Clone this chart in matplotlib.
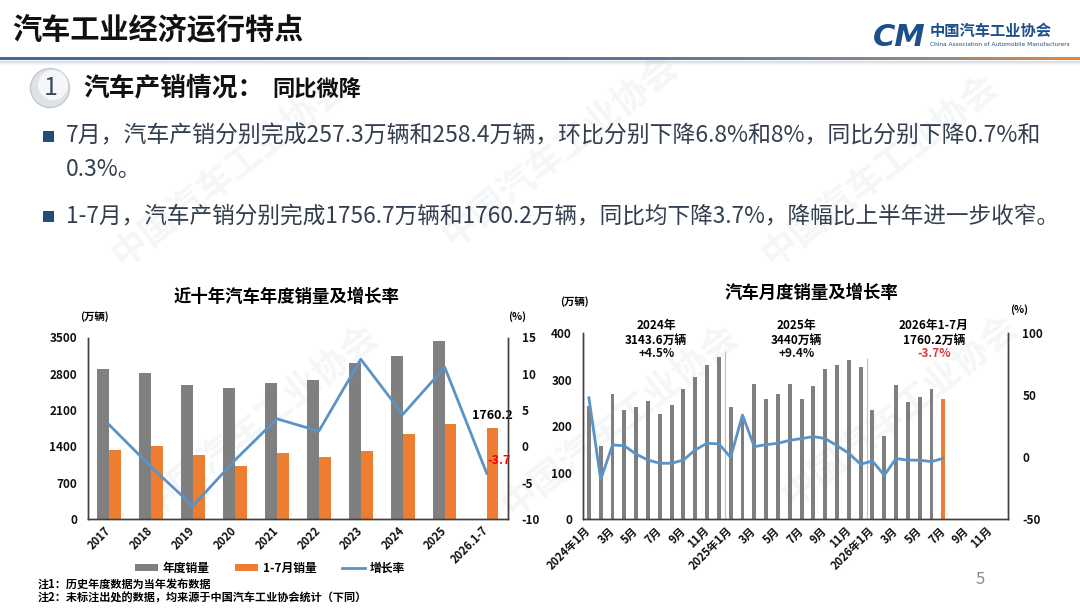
import numpy as np
import matplotlib
matplotlib.use("Agg")
import matplotlib.pyplot as plt
from matplotlib.patches import Rectangle, Circle, Patch
from matplotlib.lines import Line2D
from matplotlib.colors import LinearSegmentedColormap

plt.rcParams['font.family'] = ['Noto Sans CJK SC', 'DejaVu Sans']
plt.rcParams['font.weight'] = 'bold'
plt.rcParams['axes.unicode_minus'] = False

# ---- annual chart data (万辆 / %)
years = ["2017", "2018", "2019", "2020", "2021", "2022", "2023", "2024", "2025", "2026.1-7"]
annual_sales = [2888, 2808, 2577, 2531, 2628, 2686, 3009, 3144, 3440]
jan_jul_sales = [1325, 1403, 1229, 1017, 1280, 1197, 1313, 1630, 1826, 1760.2]
annual_growth = [3.0, -2.8, -8.2, -1.9, 3.8, 2.1, 12.0, 4.4, 10.9, -3.7]

# ---- monthly chart data, 2024-01 .. 2026-07 (axis runs to 2026-12)
n_months = 36
monthly_sales = [243.9, 158.4, 269.4, 235.9, 241.7, 255.2, 226.2, 245.3, 280.9, 305.3, 331.7, 349.9,
                 242.3, 212.9, 291.5, 259.0, 268.6, 290.4, 259.3, 285.7, 322.6, 332.2, 342.9, 327.2,
                 235.0, 179.0, 288.7, 252.8, 262.8, 280.8, 258.4]
monthly_growth = [48.0, -18.0, 10.0, 9.3, 2.5, -2.2, -4.8, -4.8, -2.2, 6.0, 11.3, 10.8,
                  0.0, 34.1, 8.6, 10.2, 11.3, 13.7, 15.1, 16.7, 15.1, 9.4, 3.2, -5.6,
                  -3.0, -14.5, -1.0, -2.3, -2.3, -3.5, -0.8]
month_ticks = ["2024年1月", "3月", "5月", "7月", "9月", "11月",
               "2025年1月", "3月", "5月", "7月", "9月", "11月",
               "2026年1月", "3月", "5月", "7月", "9月", "11月"]
period_year = ["2024年", "2025年", "2026年1-7月"]
period_total = ["3143.6万辆", "3440万辆", "1760.2万辆"]
period_rate = ["+4.5%", "+9.4%", "-3.7%"]

GRAY = "#7f7f7f"
ORANGE = "#ed7d31"
BLUE = "#5b93c7"
SPINE = "#404040"
DARK = "#1d4f8b"

W, H = 1080, 608
fig = plt.figure(figsize=(W / 100, H / 100), dpi=100)


def fax(x0, y0, x1, y1):
    return fig.add_axes([x0 / W, 1 - y1 / H, (x1 - x0) / W, (y1 - y0) / H])


# slide background in pixel coordinates
bg = fig.add_axes([0, 0, 1, 1])
bg.set_autoscale_on(False)
bg.set_xlim(0, W); bg.set_ylim(H, 0)
bg.axis("off")

# faint watermarks
for wx, wy in [(230, 170), (560, 150), (880, 170), (260, 420), (620, 420), (900, 410)]:
    bg.text(wx, wy, "中国汽车工业协会", fontsize=26, rotation=38, color="#c9d3de",
            alpha=0.2, ha="center", va="center", zorder=0)

# header
bg.text(12, 29, "汽车工业经济运行特点", fontsize=21, fontweight="bold", va="center", color="#111111")
cmap = LinearSegmentedColormap.from_list(
    "hdr", [(0, "#41689a"), (0.6, "#5c7898"), (0.86, "#8e8c8a"), (1.0, "#e6843c")])
bg.imshow(np.linspace(0, 1, 512)[None, :], cmap=cmap, extent=(0, W, 60, 57), aspect="auto", zorder=2)
for i, a in enumerate([0.35, 0.22, 0.12, 0.05]):
    bg.plot([0, W], [61 + i, 61 + i], color="#9aa6b4", alpha=a, lw=1, zorder=1)

bg.text(899, 37, "CM", fontsize=22, fontweight="heavy", style="italic", color=DARK,
        ha="center", va="center", family="DejaVu Sans")
bg.text(930, 31, "中国汽车工业协会", fontsize=11, fontweight="bold", color=DARK, va="center")
bg.text(930, 44, "China Association of Automobile Manufacturers", fontsize=4.2,
        color=DARK, va="center", family="DejaVu Sans", fontweight="normal")

# section heading
bg.add_patch(Circle((50, 88), 19.5, fc="#dfe3e8", ec="#c3c9d1", lw=1, zorder=2))
bg.add_patch(Circle((53, 85), 15, fc="#f4f6f8", ec="none", zorder=2))
bg.text(51, 88, "1", fontsize=18, fontweight="normal", color="#3b4a5e", ha="center", va="center", zorder=3)
bg.text(83, 88, "汽车产销情况：", fontsize=18.5, fontweight="bold", color="#111111", va="center")
bg.text(272, 89, "同比微降", fontsize=16, fontweight="bold", color="#111111", va="center")

# bullets
TXT = "#333f4f"
for by in [136, 216]:
    bg.add_patch(Rectangle((43, by - 5.5), 11, 11, fc="#1f4e79", ec="none"))
bg.text(66, 136, "7月，汽车产销分别完成257.3万辆和258.4万辆，环比分别下降6.8%和8%，同比分别下降0.7%和",
        fontsize=16.5, fontweight="normal", color=TXT, va="center")
bg.text(66, 170, "0.3%。", fontsize=16.5, fontweight="normal", color=TXT, va="center")
bg.text(66, 216, "1-7月，汽车产销分别完成1756.7万辆和1760.2万辆，同比均下降3.7%，降幅比上半年进一步收窄。",
        fontsize=16.3, fontweight="normal", color=TXT, va="center")

# chart titles, units, notes, page number
bg.text(287, 297, "近十年汽车年度销量及增长率", fontsize=12.5, fontweight="bold", ha="center", va="center")
bg.text(811, 293, "汽车月度销量及增长率", fontsize=12.5, fontweight="bold", ha="center", va="center")
bg.text(94, 317, "(万辆)", fontsize=7.5, ha="center", va="center")
bg.text(517, 317, "(%)", fontsize=7.5, ha="center", va="center")
bg.text(574, 302, "(万辆)", fontsize=7.5, ha="center", va="center")
bg.text(1019, 310, "(%)", fontsize=7.5, ha="center", va="center")
bg.text(38, 584, "注1：历史年度数据为当年发布数据", fontsize=8, va="center")
bg.text(38, 598, "注2：未标注出处的数据，均来源于中国汽车工业协会统计（下同）", fontsize=8, va="center")
bg.text(980, 580, "5", fontsize=12, color="#8c8c8c", fontweight="normal", ha="center", va="center")


def style(ax, twin):
    for a in (ax, twin):
        a.set_facecolor("none")
        a.spines["top"].set_visible(False)
        for s in ("left", "right", "bottom"):
            a.spines[s].set_color(SPINE)
            a.spines[s].set_linewidth(1.0)
        a.tick_params(length=0, labelsize=8.5, colors="#111111")
    ax.tick_params(axis="y", pad=8)
    twin.tick_params(axis="y", pad=10)


# ---- left chart: annual sales
axL = fax(88, 337.5, 507.7, 519)
axL2 = axL.twinx()
style(axL, axL2)
x = np.arange(len(years))
bw = 0.28
axL.bar(x[:len(annual_sales)] - bw / 2, annual_sales, bw, color=GRAY)
axL.bar(x + bw / 2, jan_jul_sales, bw, color=ORANGE)
axL.set_xlim(-0.5, len(years) - 0.5)
axL.set_ylim(0, 3500)
axL.set_yticks(np.arange(0, 3501, 700))
axL.set_xticks(x)
axL.set_xticklabels(years, rotation=45, ha="right", va="center", rotation_mode="anchor", fontsize=8)
axL.tick_params(axis="x", pad=7)
axL2.plot(x, annual_growth, color=BLUE, lw=2.0)
axL2.set_ylim(-10, 15)
axL2.set_yticks(np.arange(-10, 16, 5))
axL.annotate(f"{jan_jul_sales[-1]:.1f}", (x[-1] + bw / 2, jan_jul_sales[-1]), xytext=(0, 4),
             textcoords="offset points", ha="center", va="bottom", fontsize=9)
axL2.annotate(f"{annual_growth[-1]:.1f}", (x[-1], annual_growth[-1]), xytext=(9, 9),
              textcoords="offset points", ha="center", va="center", fontsize=9, color="#ff0000")

fig.legend(handles=[Patch(fc=GRAY), Patch(fc=ORANGE), Line2D([], [], color=BLUE, lw=2)],
           labels=["年度销量", "1-7月销量", "增长率"], loc="center",
           bbox_to_anchor=(270 / W, 1 - 568 / H), ncol=3, frameon=False, fontsize=8.5,
           handlelength=1.9, handleheight=0.6, columnspacing=2.2, handletextpad=0.4)

# ---- right chart: monthly sales
axR = fax(583, 333.3, 1008.3, 519.3)
axR2 = axR.twinx()
style(axR, axR2)
m = np.arange(len(monthly_sales))
colors = [GRAY] * (len(monthly_sales) - 1) + [ORANGE]
axR.bar(m, monthly_sales, 0.33, color=colors)
axR.set_xlim(-0.5, n_months - 0.5)
axR.set_ylim(0, 400)
axR.set_yticks(np.arange(0, 401, 100))
axR.set_xticks(np.arange(0, n_months, 2))
axR.set_xticklabels(month_ticks, rotation=45, ha="right", va="center", rotation_mode="anchor", fontsize=8)
axR.tick_params(axis="x", pad=7)
axR.vlines([11.5, 23.5], 0, [363, 347], color="#c0c0c0", lw=0.8)
axR2.plot(m, monthly_growth, color=BLUE, lw=2.0, solid_joinstyle="round")
axR2.set_ylim(-50, 100)
axR2.set_yticks(np.arange(-50, 101, 50))

for cx, yr, tot, rate in zip([5.7, 17.6, 29.2], period_year, period_total, period_rate):
    axR.text(cx, 416, yr, ha="center", va="center", fontsize=8.5, clip_on=False)
    axR.text(cx, 385, tot, ha="center", va="center", fontsize=8.5, clip_on=False)
    axR.text(cx, 357, rate, ha="center", va="center", fontsize=8.5, clip_on=False,
             color="#d83b3b" if rate.startswith("-") else "#111111")

fig.savefig("out.png", dpi=100)
